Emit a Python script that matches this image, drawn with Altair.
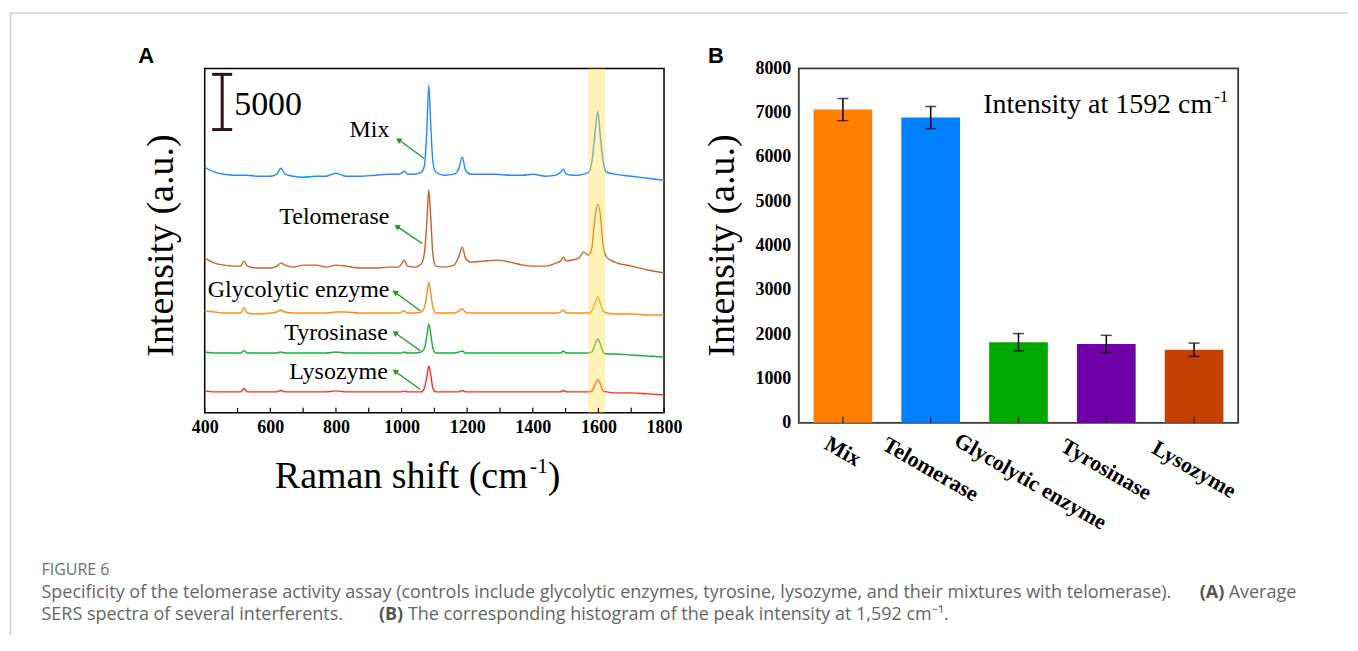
import altair as alt
import pandas as pd

# ---------------- Panel A data ----------------
wavenumber = [400, 430, 460, 490, 510, 520, 530, 560, 600, 620,
              632, 645, 670, 700, 740, 770, 800, 830, 870, 920,
              960, 990, 1000, 1008, 1018, 1040, 1060, 1070, 1077, 1083,
              1089, 1096, 1105, 1130, 1160, 1175, 1185, 1195, 1210, 1250,
              1290, 1330, 1370, 1400, 1440, 1470, 1485, 1493, 1502, 1520,
              1540, 1555, 1570, 1580, 1588, 1598, 1606, 1614, 1625, 1650,
              1700, 1750, 1800]

mix = [22240, 21790, 21610, 21520, 21520, 21520, 21520, 21420, 21420, 21610,
       22150, 21610, 21420, 21330, 21420, 21420, 21700, 21420, 21420, 21520,
       21610, 21610, 21700, 21880, 21610, 21610, 21790, 22420, 25580, 29650,
       26040, 22600, 21790, 21520, 21610, 22150, 23140, 21970, 21610, 21610,
       21610, 21520, 21520, 21610, 21420, 21520, 21790, 22060, 21610, 21520,
       21520, 21610, 21790, 22690, 24800, 27300, 25000, 22870, 21790, 21610,
       21420, 21240, 21060]

telomerase = [14010, 13560, 13380, 13290, 13290, 13740, 13290, 13110, 13110, 13290,
              13560, 13380, 13200, 13380, 13380, 13200, 13380, 13290, 13110, 13110,
              13200, 13200, 13470, 13830, 13290, 13200, 13470, 14550, 17270, 20160,
              17630, 14190, 13290, 13200, 13380, 14190, 15010, 14010, 13650, 13740,
              13830, 13650, 13380, 13290, 13290, 13560, 13740, 14100, 13740, 13830,
              14010, 14550, 14280, 14920, 17270, 18890, 17900, 15280, 14100, 13650,
              13290, 12930, 12660]

glycolytic = [9220, 9130, 9040, 9040, 9040, 9490, 9040, 8950, 9040, 9130,
              9310, 9130, 9040, 9040, 9040, 9040, 9130, 9130, 9040, 9040,
              9040, 9040, 9130, 9220, 9040, 9040, 9130, 9580, 10670, 11840,
              10850, 9490, 9040, 9040, 9040, 9220, 9400, 9130, 9040, 9040,
              9040, 9040, 9040, 9040, 9040, 9040, 9130, 9310, 9040, 9040,
              9040, 9040, 9040, 9220, 9760, 10490, 9940, 9220, 9040, 8950,
              8950, 8860, 8860]

tyrosinase = [5510, 5420, 5420, 5420, 5420, 5650, 5420, 5420, 5420, 5420,
              5510, 5420, 5420, 5420, 5420, 5420, 5510, 5420, 5420, 5420,
              5420, 5420, 5420, 5510, 5420, 5420, 5510, 5880, 6960, 8050,
              7140, 5790, 5420, 5420, 5420, 5510, 5600, 5420, 5420, 5420,
              5420, 5420, 5420, 5420, 5420, 5420, 5420, 5600, 5420, 5420,
              5420, 5420, 5420, 5510, 6050, 6690, 6240, 5510, 5330, 5330,
              5240, 5150, 5060]

lysozyme = [1990, 1900, 1900, 1900, 1900, 2210, 1900, 1900, 1900, 1900,
            2030, 1900, 1900, 1900, 1900, 1900, 1990, 1900, 1900, 1900,
            1900, 1900, 1900, 1990, 1900, 1900, 1900, 2260, 3250, 4250,
            3440, 2170, 1900, 1900, 1900, 1900, 2030, 1900, 1900, 1900,
            1900, 1900, 1900, 1900, 1900, 1900, 1900, 2030, 1900, 1900,
            1900, 1900, 1900, 1990, 2440, 3030, 2620, 1990, 1900, 1810,
            1810, 1720, 1630]

series_names = ["Mix", "Telomerase", "Glycolytic enzyme", "Tyrosinase", "Lysozyme"]
series_colors = ["#1e8cff", "#c4622b", "#ff8c1a", "#22ab3a", "#ff2b2b"]

label_wavenumber = [963, 963, 963, 958, 958]
label_intensity = [25580, 17720, 11120, 7230, 3710]
arrow_tail_x = [1068, 1063, 1057, 1057, 1056]
arrow_tail_y = [23050, 15340, 9250, 5630, 2140]
arrow_head_x = [993, 988, 982, 982, 982]
arrow_head_y = [24680, 16840, 10880, 7200, 3730]

highlight_range = [1568, 1620]
x_tick_labels = [400, 600, 800, 1000, 1200, 1400, 1600, 1800]
x_tick_marks = [400, 500, 600, 700, 800, 900, 1000, 1100, 1200, 1300,
                1400, 1500, 1600, 1700, 1800]
scale_bar = [25650, 30650]   # a 5000 a.u. bar

# ---------------- Panel B data ----------------
categories = ["Mix", "Telomerase", "Glycolytic enzyme", "Tyrosinase", "Lysozyme"]
bar_values = [7070, 6890, 1820, 1780, 1650]
bar_errors = [250, 250, 195, 195, 150]
bar_colors = ["#ff8000", "#0080ff", "#00a800", "#7000aa", "#c44100"]
y_tick_labels = [0, 1000, 2000, 3000, 4000, 5000, 6000, 7000, 8000]

SERIF = "Liberation Serif"
SANS = "Liberation Sans"
CAP = "Open Sans"

WA, HA = 460, 345
WB, HB = 440, 355


def ptext(text, x, y, size, font=SERIF, align="left", baseline="middle",
          weight="normal", color="#000", angle=0):
    kw = dict(text=text, font=font, fontSize=size, align=align, baseline=baseline,
              fontWeight=weight, color=color)
    if angle:
        kw["angle"] = angle
    return alt.Chart(pd.DataFrame({"t": [text]})).mark_text(**kw).encode(
        x=alt.value(x), y=alt.value(y))


# ---------------- Panel A ----------------
rows = []
for name, vals in zip(series_names, [mix, telomerase, glycolytic, tyrosinase, lysozyme]):
    for w, v in zip(wavenumber, vals):
        rows.append({"series": name, "wavenumber": w, "intensity": v})
spec_df = pd.DataFrame(rows)

xa_scale = alt.Scale(domain=[400, 1800], nice=False, zero=False)
ya_scale = alt.Scale(domain=[0, 31190], nice=False)
xa_axis = alt.Axis(values=x_tick_labels, format="d", title=None, labelFont=SERIF,
                   labelFontSize=18, labelFontWeight="bold", labelColor="#000",
                   labelPadding=6, labelFlush=False, ticks=False, tickSize=0,
                   domain=False, grid=False)
XA = alt.X("wavenumber:Q", scale=xa_scale, axis=xa_axis)
YA = alt.Y("intensity:Q", scale=ya_scale, axis=None)

lines = alt.Chart(spec_df).mark_line(strokeWidth=1.4, interpolate="monotone").encode(
    x=XA, y=YA,
    color=alt.Color("series:N", scale=alt.Scale(domain=series_names, range=series_colors),
                    legend=None),
)

band = alt.Chart(pd.DataFrame({"wavenumber": [highlight_range[0]],
                               "wavenumber2": [highlight_range[1]]})).mark_rect(
    color="#ffe24a", opacity=0.4).encode(
    x=XA, x2="wavenumber2:Q", y=alt.value(0), y2=alt.value(HA))

ticks_a = alt.Chart(pd.DataFrame({"wavenumber": x_tick_marks})).mark_rule(
    color="#000", strokeWidth=1.2).encode(x=XA, y=alt.value(HA), y2=alt.value(HA - 5))

bar_df = pd.DataFrame({"intensity": [scale_bar[1]], "intensity2": [scale_bar[0]]})
sbar = alt.Chart(bar_df).mark_rule(color="#2a1616", strokeWidth=3).encode(
    x=alt.value(17.5), y=YA, y2="intensity2:Q")
caps = alt.Chart(pd.DataFrame({"intensity": scale_bar})).mark_rule(
    color="#2a1616", strokeWidth=3).encode(x=alt.value(7.5), x2=alt.value(27.5), y=YA)

lab_df = pd.DataFrame({"wavenumber": label_wavenumber, "intensity": label_intensity,
                       "label": series_names})
labels = alt.Chart(lab_df).mark_text(font=SERIF, fontSize=24, align="right",
                                     baseline="middle", color="#000").encode(
    x=XA, y=YA, text="label:N")

arr_df = pd.DataFrame({"wavenumber": arrow_tail_x, "intensity": arrow_tail_y,
                       "wavenumber2": arrow_head_x, "intensity2": arrow_head_y})
arrows = alt.Chart(arr_df).mark_rule(color="#1a9a1a", strokeWidth=1.3).encode(
    x=XA, y=YA, x2="wavenumber2:Q", y2="intensity2:Q")
heads = alt.Chart(pd.DataFrame({"wavenumber": arrow_head_x,
                                "intensity": arrow_head_y})).mark_point(
    shape="triangle", filled=True, size=40, angle=306, color="#1a9a1a", opacity=1).encode(
    x=XA, y=YA)

CAPC = "#666666"
panel_a = alt.layer(
    lines, band, ticks_a, sbar, caps, labels, arrows, heads,
    ptext("5000", 29.5, 46.5, 34, baseline="alphabetic"),
    ptext("A", -58.5, -12.5, 22, font=SANS, align="center", weight="bold"),
    ptext("Intensity (a.u.)", -42.5, 177.5, 38, align="center", angle=270),
    ptext("Raman shift (cm", 323.5, 420.5, 38, align="right", baseline="alphabetic"),
    ptext("-1", 325.5, 405.5, 22, baseline="alphabetic"),
    ptext(")", 343.5, 420.5, 38, baseline="alphabetic"),
    # caption
    ptext("FIGURE 6", -163.5, 502.5, 16, font=CAP, color="#6e6e6e"),
    ptext("Specificity of the telomerase activity assay (controls include glycolytic enzymes, "
          "tyrosine, lysozyme, and their mixtures with telomerase).",
          -163.5, 525.5, 18, font=CAP, color=CAPC),
    ptext("(A)", 996.5, 525.5, 18, font=CAP, color="#555", weight="bold"),
    ptext("Average", 1025.5, 525.5, 18, font=CAP, color=CAPC),
    ptext("SERS spectra of several interferents.", -163.5, 547.5, 18, font=CAP, color=CAPC),
    ptext("(B)", 174.5, 547.5, 18, font=CAP, color="#555", weight="bold"),
    ptext("The corresponding histogram of the peak intensity at 1,592 cm\u207b\u00b9.",
          203.5, 547.5, 18, font=CAP, color=CAPC),
    # page frame lines
    alt.Chart(pd.DataFrame({"k": [0]})).mark_rule(color="#cfcfcf", strokeWidth=1.5).encode(
        x=alt.value(-194.5), x2=alt.value(1145), y=alt.value(-55.5)),
    alt.Chart(pd.DataFrame({"k": [0]})).mark_rule(color="#cfcfcf", strokeWidth=1.5).encode(
        x=alt.value(-194.5), y=alt.value(-55.5), y2=alt.value(568)),
).properties(width=WA, height=HA,
             view=alt.ViewBackground(stroke="#000", strokeWidth=1.5))

# ---------------- Panel B ----------------
b_df = pd.DataFrame({"category": categories, "value": bar_values,
                     "lo": [v - e for v, e in zip(bar_values, bar_errors)],
                     "hi": [v + e for v, e in zip(bar_values, bar_errors)]})

xb_axis = alt.Axis(
    title=None, labelAngle=30, labelAlign="center", labelBaseline="middle",
    labelFont=SERIF, labelFontSize=22, labelFontWeight="bold", labelColor="#000",
    labelLimit=400, ticks=False, tickSize=0, domain=False, grid=False,
    labelPadding={"condition": [{"test": "datum.label == 'Mix'", "value": 28},
                                {"test": "datum.label == 'Glycolytic enzyme'", "value": 58}],
                  "value": 46},
    labelOffset={"condition": {"test": "datum.label == 'Glycolytic enzyme'", "value": 12},
                 "value": 0},
)
yb_axis = alt.Axis(values=y_tick_labels, format="d", title=None,
                   labelFont=SERIF, labelFontSize=18, labelFontWeight="bold",
                   labelColor="#000", labelPadding=8, labelFlush=False, ticks=False,
                   tickSize=0, domain=False, grid=False)
XB = alt.X("category:N", sort=categories,
           scale=alt.Scale(domain=categories, paddingInner=0.332, paddingOuter=0.168),
           axis=xb_axis)
YB = alt.Y("value:Q", scale=alt.Scale(domain=[0, 8000], nice=False), axis=yb_axis)

bars = alt.Chart(b_df).mark_bar().encode(
    x=XB, y=YB,
    color=alt.Color("category:N", scale=alt.Scale(domain=categories, range=bar_colors),
                    legend=None))
err_df = b_df.rename(columns={"value": "v"}).assign(value=b_df["lo"])
err = alt.Chart(err_df).mark_rule(color="#000", strokeWidth=1.5).encode(
    x=XB, y=YB, y2="hi:Q")
caps_lo = alt.Chart(err_df).mark_tick(color="#000", thickness=1.5, size=11).encode(
    x=XB, y=YB)
caps_hi = alt.Chart(b_df.assign(value=b_df["hi"])).mark_tick(
    color="#000", thickness=1.5, size=11).encode(x=XB, y=YB)
ticks_b = alt.Chart(b_df).mark_rule(color="#222", strokeWidth=1.3).encode(
    x=XB, y=alt.value(HB), y2=alt.value(HB - 6))

panel_b = alt.layer(
    bars, err, caps_lo, caps_hi, ticks_b,
    ptext("Intensity at 1592 cm", 414, 44.5, 28, align="right", baseline="alphabetic"),
    ptext("-1", 416, 33.5, 17, baseline="alphabetic"),
    ptext("Intensity (a.u.)", -76, 177.5, 38, align="center", angle=270),
    ptext("B", -83, -12.5, 22, font=SANS, align="center", weight="bold"),
).properties(width=WB, height=HB,
             view=alt.ViewBackground(stroke="#3a3a3a", strokeWidth=1.8))

chart = alt.hconcat(panel_a, panel_b, spacing=135, bounds="flush").resolve_scale(
    color="independent").properties(
    padding={"left": 1, "top": 3, "right": 0, "bottom": 0})

chart.save("out.html", embed_options={"renderer": "svg", "actions": False})
